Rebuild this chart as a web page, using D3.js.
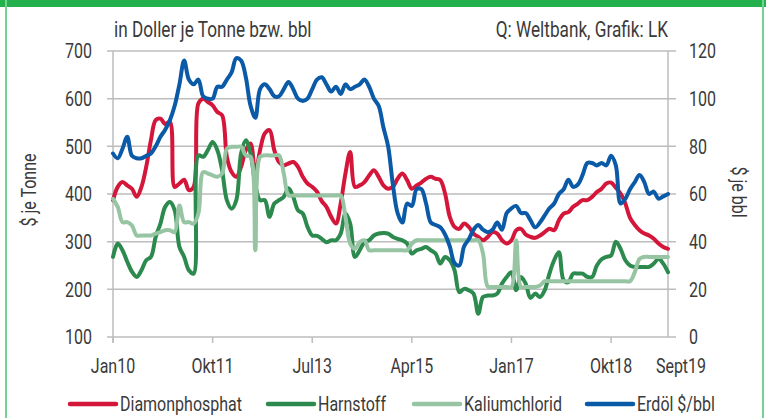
<!DOCTYPE html>
<html><head><meta charset="utf-8">
<script src="https://cdn.jsdelivr.net/npm/d3@7"></script>
<style>
html,body{margin:0;padding:0;background:#fff;}
svg{display:block;}
text{font-family:Roboto,"Noto Sans",sans-serif;fill:#3a3a3a;}
</style></head>
<body>
<svg id="c" width="766" height="418"></svg>
<script>
// ---- data (monthly, Jan 2010 onward) ----
const tickLabels = ["Jan10","Okt11","Jul13","Apr15","Jan17","Okt18","Sept19"];
const tickIndex  = [0,21,42,63,84,105,117];
const leftTicks  = [100,200,300,400,500,600,700];
const rightTicks = [0,20,40,60,80,100,120];
const seriesNames = ["Diamonphosphat","Harnstoff","Kaliumchlorid","Erdöl $/bbl"];

const dap = [387,415,425,418,411,394,415,457,513,555,558,547,551,415,422,430,408,415,590,600,
 593,586,572,565,478,446,436,457,492,506,443,492,527,534,492,467,460,464,467,457,
 436,422,415,405,385,373,352,338,380,443,488,415,418,425,439,450,436,418,411,415,
 432,443,429,411,418,424,432,436,432,429,401,352,331,327,338,331,317,310,303,310,
 320,317,303,296,303,324,327,315,310,308,313,320,327,324,345,359,362,373,380,387,
 387,394,404,411,422,424,413,401,380,350,335,324,317,313,306,296,289,285];

const urea = [268,296,282,258,237,226,240,261,268,310,338,373,383,366,289,268,240,233,481,478,
 492,509,492,450,387,369,387,485,513,485,420,387,387,352,380,387,394,412,394,366,
 359,331,313,312,306,299,303,303,317,359,338,268,282,299,303,313,317,318,317,310,
 306,303,296,275,282,285,289,282,275,254,268,261,240,194,201,198,191,149,184,187,
 187,191,212,226,236,198,226,212,182,191,184,198,233,261,278,219,215,233,233,233,
 226,226,250,263,268,271,300,285,261,250,247,247,247,247,254,264,254,236];

const potash = [390,373,341,341,334,313,313,313,313,317,320,324,324,320,376,341,341,338,359,446,
 443,439,436,443,495,499,499,499,481,478,282,478,481,481,481,481,443,397,397,397,
 397,397,397,397,397,397,397,397,397,352,296,285,299,303,282,282,282,282,282,282,
 282,282,282,296,303,303,303,303,303,303,303,303,303,303,303,303,303,303,275,206,
 205,205,205,205,205,303,205,205,205,205,208,217,217,217,217,217,217,217,217,217,
 217,217,217,217,217,217,217,217,217,217,236,264,268,268,268,268,268,268];

const oil = [77,75,79,84,76,75,75,76,77,80,84,87,91,97,106,116,108,106,108,101,
 100,100,105,105,108,111,117,116,109,97,92,104,106,104,101,101,104,107,104,100,
 99,100,104,108,109,106,103,105,102,106,104,105,106,108,105,100,97,88,80,64,
 52,48,56,55,62,62,56,48,47,46,43,38,31,30,38,41,45,47,45,44,
 45,48,45,52,54,55,52,52,49,46,48,51,54,56,60,62,66,63,64,68,
 73,73,72,73,72,76,72,56,58,62,65,68,65,60,61,58,59,60];

const colors = ["#d4163a","#2d8a4e","#97c5a4","#0b5aa8"];

// ---- layout ----
const svg = d3.select("#c");
const L = 113, R = 668, T = 51, B = 337;
const x = d3.scaleLinear().domain([0,117]).range([L,R]);
const yL = d3.scaleLinear().domain([100,700]).range([B,T]);
const yR = d3.scaleLinear().domain([0,120]).range([B,T]);
const grid = "#bdbdbd";
const SX = 0.8; // condensed look

function label(parent, px, py, str, size, anchor, rot, dy) {
  let tr = `translate(${px},${py})`;
  if (rot) tr += ` rotate(${rot})`;
  tr += ` scale(${SX},1)`;
  return parent.append("text").attr("transform", tr)
    .attr("font-size", size).attr("text-anchor", anchor || "start")
    .attr("dy", dy || 0).text(str);
}

// frame
svg.append("rect").attr("x",0).attr("y",0).attr("width",766).attr("height",7).attr("fill","#22b14c");
svg.append("line").attr("x1",6).attr("x2",6).attr("y1",0).attr("y2",418).attr("stroke","#72d294").attr("stroke-width",2);
svg.append("line").attr("x1",763).attr("x2",763).attr("y1",0).attr("y2",418).attr("stroke","#72d294").attr("stroke-width",2);

// header
label(svg,114,37,"in Doller je Tonne bzw. bbl",21.5,"start");
label(svg,668,37,"Q: Weltbank, Grafik: LK",21.5,"end");

// gridlines
svg.append("g").selectAll("line").data(leftTicks).join("line")
  .attr("x1",L-6).attr("x2",R+8).attr("y1",d=>yL(d)).attr("y2",d=>yL(d))
  .attr("stroke",grid).attr("stroke-width",1.5);
// vertical axis lines
svg.append("line").attr("x1",L).attr("x2",L).attr("y1",T).attr("y2",B+6).attr("stroke",grid).attr("stroke-width",1.5);
svg.append("line").attr("x1",R).attr("x2",R).attr("y1",T).attr("y2",B).attr("stroke",grid).attr("stroke-width",1.5);
// x ticks
svg.append("g").selectAll("line").data(tickIndex.slice(0,6)).join("line")
  .attr("x1",d=>x(d)).attr("x2",d=>x(d)).attr("y1",B).attr("y2",B+6)
  .attr("stroke",grid).attr("stroke-width",1.5);

// axis labels
const gl = svg.append("g");
leftTicks.forEach(d => label(gl, 92, yL(d), d, 20, "end", 0, "0.36em"));
const gr = svg.append("g");
rightTicks.forEach(d => label(gr, 689, yR(d), d, 20, "start", 0, "0.36em"));
const gx = svg.append("g");
tickIndex.forEach((d,i) => label(gx, i===6 ? x(d)+13 : x(d), 373, tickLabels[i], 20, "middle"));

// axis titles
label(svg, 36, 190, "$ je Tonne", 20, "middle", -90);
label(svg, 732, 192, "$ je bbl", 20, "middle", 90);

// lines
const lineL = d3.line().x((d,i)=>x(i)).y(d=>yL(d)).curve(d3.curveCatmullRom.alpha(0.5));
const lineR = d3.line().x((d,i)=>x(i)).y(d=>yR(d)).curve(d3.curveCatmullRom.alpha(0.5));
const g = svg.append("g").attr("fill","none").attr("stroke-width",4).attr("stroke-linejoin","round").attr("stroke-linecap","round");
g.append("path").attr("d",lineL(dap)).attr("stroke",colors[0]);
g.append("path").attr("d",lineL(urea)).attr("stroke",colors[1]);
g.append("path").attr("d",lineL(potash)).attr("stroke",colors[2]);
g.append("path").attr("d",lineR(oil)).attr("stroke",colors[3]);

// legend
const legX = [70,268,414,587];
const lg = svg.append("g");
seriesNames.forEach((n,i)=>{
  lg.append("line").attr("x1",legX[i]).attr("x2",legX[i]+46).attr("y1",404).attr("y2",404)
    .attr("stroke",colors[i]).attr("stroke-width",4.5).attr("stroke-linecap","round");
  label(lg, legX[i]+50, 404, n, 20, "start", 0, "0.36em");
});
</script>
</body></html>
